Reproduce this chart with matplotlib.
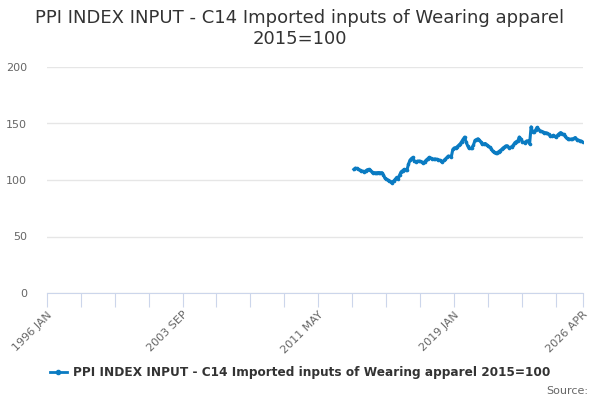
import numpy as np
import matplotlib.pyplot as plt
from matplotlib.lines import Line2D

# Months from 1996 JAN to 2026 APR (index 0..363)
start_year, start_month = 1996, 1
n_months = 364
month_names = ['JAN', 'FEB', 'MAR', 'APR', 'MAY', 'JUN',
               'JUL', 'AUG', 'SEP', 'OCT', 'NOV', 'DEC']
categories = [f"{start_year + i // 12} {month_names[i % 12]}" for i in range(n_months)]

# Series starts at 2013 MAY (index 208)
first_index = 208
values = [
    109.4, 110.5, 110.2, 109.5, 108.8, 108.3, 107.9, 107.2, 108.0, 109.0,
    109.4, 108.5, 107.5, 106.6, 106.5, 106.3, 106.5, 106.6, 106.4, 106.5,
    104.5, 101.8, 100.8, 100.1, 99.4, 98.6, 97.6, 99.2, 100.5, 102.3,
    100.8, 104.5, 107.2, 108.3, 109.3, 108.9, 109.0, 114.0, 117.5, 119.0,
    120.0, 116.5, 116.3, 116.6, 116.8, 116.4, 116.0, 114.8, 116.2, 117.6,
    118.8, 120.0, 119.3, 118.8, 118.5, 118.6, 118.4, 118.0, 117.6, 117.0,
    116.0, 117.3, 118.5, 120.0, 121.2, 120.9, 120.6, 127.0, 128.4, 128.5,
    129.5, 130.7, 132.0, 134.0, 136.0, 138.0, 133.5, 130.5, 128.0, 127.9,
    128.6, 131.0, 135.0, 135.8, 136.5, 135.0, 133.8, 131.5, 132.0, 132.3,
    131.2, 130.0, 129.0, 127.8, 125.5, 124.5, 123.6, 124.2, 125.0, 126.0,
    127.0, 128.3, 129.2, 130.3, 130.2, 128.6, 128.8, 129.3, 131.0, 133.0,
    134.0, 134.4, 138.0, 136.5, 133.8, 133.3, 133.0, 134.6, 134.5, 132.0,
    147.0, 142.5, 142.8, 144.1, 146.5, 145.0, 143.5, 143.0, 142.5, 142.0,
    141.8, 141.2, 140.3, 138.9, 138.6, 139.5, 138.5, 137.8, 139.8, 141.0,
    142.0, 141.0, 140.3, 138.8, 137.0, 136.6, 136.0, 136.2, 136.3, 136.8,
    137.6, 135.8, 135.3, 134.7, 134.2, 133.8,
]
x = np.arange(first_index, first_index + len(values))

title = "PPI INDEX INPUT - C14 Imported inputs of Wearing apparel\n2015=100"
series_name = "PPI INDEX INPUT - C14 Imported inputs of Wearing apparel 2015=100"

line_color = '#0a7bc2'
axis_color = '#ccd6eb'
grid_color = '#e6e6e6'
label_color = '#666666'

fig = plt.figure(figsize=(6, 4), dpi=100)
ax = fig.add_axes([0.0777, 0.2675, 0.9713 - 0.0777, 0.8325 - 0.2675])

ax.plot(x, values, color=line_color, linewidth=2.2, marker='o', markersize=2.6,
        markeredgewidth=0)

ax.set_xlim(0, n_months - 1)
ax.set_ylim(0, 200)
ax.set_yticks([0, 50, 100, 150, 200])
ax.yaxis.grid(True, color=grid_color, linewidth=1)
ax.set_axisbelow(True)
ax.tick_params(axis='y', length=0, labelsize=8, labelcolor=label_color, pad=14)

# x ticks every 23 months plus the last month, labels every 4th tick
tick_pos = list(range(0, n_months, 23)) + [n_months - 1]
tick_labels = [categories[p] if (k % 4 == 0 or p == n_months - 1) else ''
               for k, p in enumerate(tick_pos)]
ax.set_xticks(tick_pos)
ax.set_xticklabels(tick_labels, rotation=45, ha='right', rotation_mode='anchor')
ax.tick_params(axis='x', length=10, color=axis_color, labelsize=8,
               labelcolor=label_color, pad=2)

for side in ['top', 'right', 'left']:
    ax.spines[side].set_visible(False)
ax.spines['bottom'].set_color(axis_color)

fig.text(0.5, 0.978, title, ha='center', va='top', fontsize=13,
         color='#333333', linespacing=1.2)

handle = Line2D([], [], color=line_color, linewidth=2, marker='o', markersize=3)
fig.legend([handle], [series_name], loc='center', bbox_to_anchor=(0.5, 0.068),
           frameon=False, handlelength=1.4, handletextpad=0.5,
           prop={'size': 8.7, 'weight': 'bold'}, labelcolor='#333333')

fig.text(0.98, 0.022, "Source:", ha='right', va='center', fontsize=8, color='#666666')

fig.savefig('out.png', dpi=100)
